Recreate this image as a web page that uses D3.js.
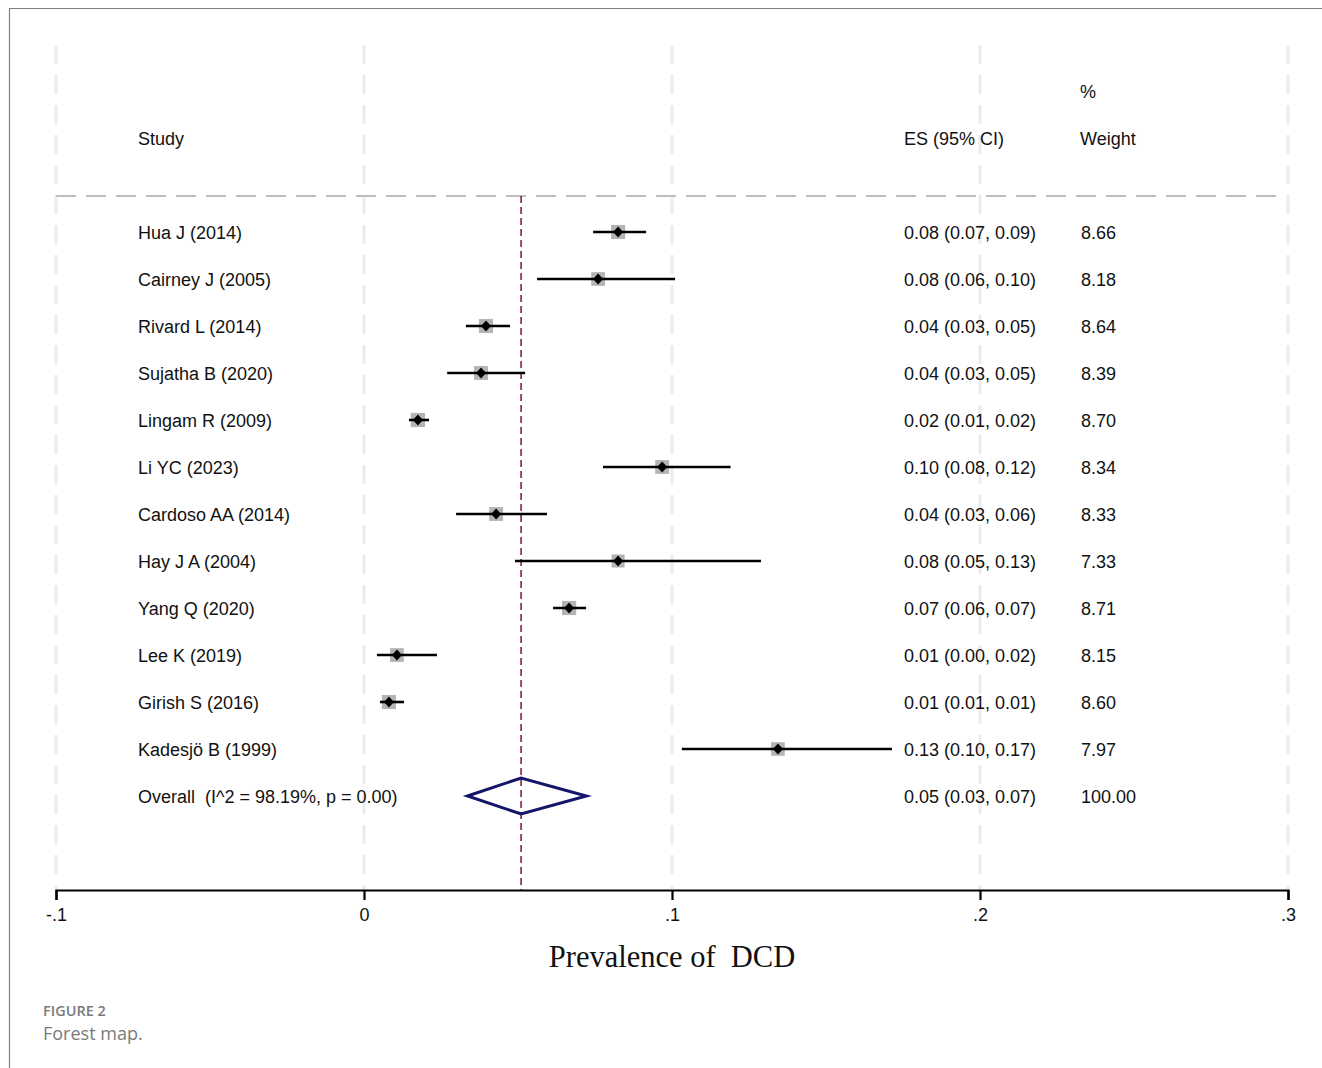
<!DOCTYPE html>
<html>
<head>
<meta charset="utf-8">
<script src="https://cdn.jsdelivr.net/npm/d3@7"></script>
<style>
  body { margin: 0; background: #fff; }
  svg text { font-family: "Liberation Sans", Arial, sans-serif; white-space: pre; }
</style>
</head>
<body>
<div id="chart"></div>
<script>
// study rows
const studies = ["Hua J (2014)", "Cairney J (2005)", "Rivard L (2014)", "Sujatha B (2020)",
  "Lingam R (2009)", "Li YC (2023)", "Cardoso AA (2014)", "Hay J A (2004)",
  "Yang Q (2020)", "Lee K (2019)", "Girish S (2016)", "Kadesjö B (1999)"];
const es    = [0.0825, 0.076, 0.0396, 0.038, 0.0175, 0.0968, 0.0429, 0.0825, 0.0666, 0.0107, 0.0081, 0.1344];
const lower = [0.0744, 0.0562, 0.0331, 0.027, 0.0146, 0.0776, 0.0299, 0.049, 0.0614, 0.0042, 0.0052, 0.1032];
const upper = [0.0916, 0.101, 0.0474, 0.0523, 0.0211, 0.119, 0.0594, 0.1289, 0.0721, 0.0237, 0.013, 0.1714];
const esText = ["0.08 (0.07, 0.09)", "0.08 (0.06, 0.10)", "0.04 (0.03, 0.05)", "0.04 (0.03, 0.05)",
  "0.02 (0.01, 0.02)", "0.10 (0.08, 0.12)", "0.04 (0.03, 0.06)", "0.08 (0.05, 0.13)",
  "0.07 (0.06, 0.07)", "0.01 (0.00, 0.02)", "0.01 (0.01, 0.01)", "0.13 (0.10, 0.17)"];
const weights = [8.66, 8.18, 8.64, 8.39, 8.70, 8.34, 8.33, 7.33, 8.71, 8.15, 8.60, 7.97];

// overall
const overall = {label: "Overall  (I^2 = 98.19%, p = 0.00)", es: 0.051, lo: 0.0336, hi: 0.0722,
  text: "0.05 (0.03, 0.07)", weight: "100.00"};

const ticks = [-0.1, 0, 0.1, 0.2, 0.3];
const tickLabels = ["-.1", "0", ".1", ".2", ".3"];

const W = 1322, H = 1068;
const svg = d3.select("#chart").append("svg")
  .attr("width", W).attr("height", H);

// frame
svg.append("path")
  .attr("d", `M9.5,${H} L9.5,8.5 L${W},8.5`)
  .attr("fill", "none").attr("stroke", "#808080").attr("stroke-width", 1.2);

const x = d3.scaleLinear().domain([-0.1, 0.3]).range([56, 1288]);
const rows = studies.concat([overall.label]);
const y = d3.scalePoint().domain(d3.range(rows.length)).range([232, 796]);

const axisY = 890;

// vertical grid lines
svg.append("g").selectAll("line")
  .data(ticks).join("line")
  .attr("x1", d => x(d)).attr("x2", d => x(d))
  .attr("y1", 45).attr("y2", axisY)
  .attr("stroke", "#ebebeb").attr("stroke-width", 3)
  .attr("stroke-dasharray", "19,11");

// header separator
svg.append("line")
  .attr("x1", 56).attr("x2", 1282).attr("y1", 196).attr("y2", 196)
  .attr("stroke", "#bdbdbd").attr("stroke-width", 2)
  .attr("stroke-dasharray", "20,10");

// pooled estimate line
svg.append("line")
  .attr("x1", x(overall.es)).attr("x2", x(overall.es))
  .attr("y1", 196).attr("y2", axisY)
  .attr("stroke", "#8e2430").attr("stroke-width", 1.6)
  .attr("stroke-dasharray", "7,4");

// headers
const hdr = svg.append("g").attr("font-size", 18).attr("fill", "#111");
hdr.append("text").attr("x", 138).attr("y", 145).text("Study");
hdr.append("text").attr("x", 904).attr("y", 145).text("ES (95% CI)");
hdr.append("text").attr("x", 1080).attr("y", 98).text("%");
hdr.append("text").attr("x", 1080).attr("y", 145).text("Weight");

// study rows
const g = svg.append("g");
const idx = d3.range(studies.length);
const boxSize = w => 4.8 * Math.sqrt(w);

g.selectAll("rect.box").data(idx).join("rect")
  .attr("class", "box")
  .attr("x", i => x(es[i]) - boxSize(weights[i]) / 2)
  .attr("y", i => y(i) - boxSize(weights[i]) / 2)
  .attr("width", i => boxSize(weights[i]))
  .attr("height", i => boxSize(weights[i]))
  .attr("fill", "#b4b4b4");

g.selectAll("line.ci").data(idx).join("line")
  .attr("class", "ci")
  .attr("x1", i => x(lower[i])).attr("x2", i => x(upper[i]))
  .attr("y1", i => y(i)).attr("y2", i => y(i))
  .attr("stroke", "#000").attr("stroke-width", 2.6);

g.selectAll("path.pt").data(idx).join("path")
  .attr("class", "pt")
  .attr("transform", i => `translate(${x(es[i])},${y(i)})`)
  .attr("d", "M0,-5.5 L5,0 L0,5.5 L-5,0 Z")
  .attr("fill", "#000");

const txt = svg.append("g").attr("font-size", 18).attr("fill", "#111");
txt.selectAll("text.lab").data(rows).join("text")
  .attr("class", "lab").attr("x", 138).attr("y", (d, i) => y(i) + 7).text(d => d);
txt.selectAll("text.es").data(esText.concat([overall.text])).join("text")
  .attr("class", "es").attr("x", 904).attr("y", (d, i) => y(i) + 7).text(d => d);
txt.selectAll("text.w").data(weights.map(w => w.toFixed(2)).concat([overall.weight])).join("text")
  .attr("class", "w").attr("x", 1081).attr("y", (d, i) => y(i) + 7).text(d => d);

// overall diamond
const oy = y(rows.length - 1);
svg.append("path")
  .attr("d", `M${x(overall.lo)},${oy} L${x(overall.es)},${oy - 18} L${x(overall.hi)},${oy} L${x(overall.es)},${oy + 18} Z`)
  .attr("fill", "none").attr("stroke", "#14146b").attr("stroke-width", 3);

// x axis
const axis = svg.append("g")
  .attr("transform", `translate(0,${axisY})`)
  .call(d3.axisBottom(x).tickValues(ticks).tickFormat((d, i) => tickLabels[i]).tickSize(10).tickPadding(8).tickSizeOuter(10));
axis.select(".domain").attr("stroke", "#000").attr("stroke-width", 2.2);
axis.selectAll(".tick line").attr("stroke", "#000").attr("stroke-width", 2.2);
axis.selectAll(".tick text").attr("font-size", 18).attr("fill", "#111")
  .attr("font-family", "'Liberation Sans', Arial, sans-serif");

// axis title
svg.append("text")
  .attr("x", x(0.1)).attr("y", 967)
  .attr("text-anchor", "middle")
  .attr("font-size", 30.5)
  .style("font-family", "'Liberation Serif', 'Times New Roman', serif")
  .attr("fill", "#111")
  .text("Prevalence of  DCD");

// caption
svg.append("text")
  .attr("x", 43).attr("y", 1016)
  .attr("font-size", 14.5).attr("font-weight", 600)
  .style("font-family", "'Open Sans', sans-serif")
  .attr("fill", "#7a7a7a")
  .text("FIGURE 2");
svg.append("text")
  .attr("x", 43).attr("y", 1040)
  .attr("font-size", 18)
  .style("font-family", "'Open Sans', sans-serif")
  .attr("fill", "#7a7a7a")
  .text("Forest map.");
</script>
</body>
</html>
